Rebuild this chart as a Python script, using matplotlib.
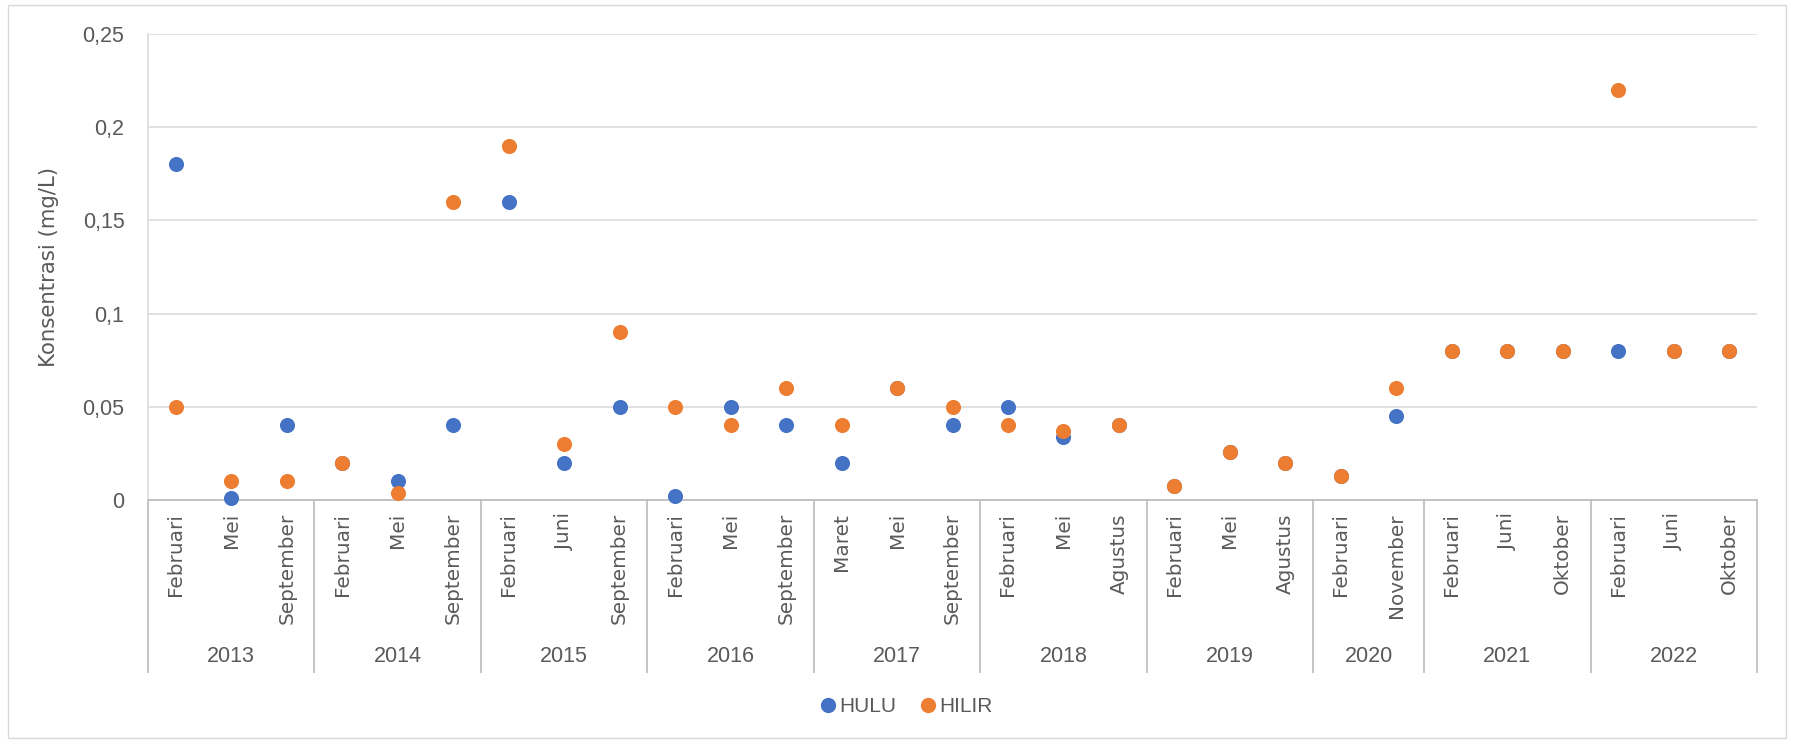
import matplotlib
matplotlib.use("Agg")
import matplotlib.pyplot as plt
from matplotlib.patches import Rectangle
from matplotlib.lines import Line2D
from matplotlib.ticker import FuncFormatter

# ---- data ----
years = ["2013", "2014", "2015", "2016", "2017", "2018", "2019", "2020", "2021", "2022"]
months = [
    ["Februari", "Mei", "September"],
    ["Februari", "Mei", "September"],
    ["Februari", "Juni", "September"],
    ["Februari", "Mei", "September"],
    ["Maret", "Mei", "September"],
    ["Februari", "Mei", "Agustus"],
    ["Februari", "Mei", "Agustus"],
    ["Februari", "November"],
    ["Februari", "Juni", "Oktober"],
    ["Februari", "Juni", "Oktober"],
]
hulu = [0.18, 0.001, 0.04,
        0.02, 0.01, 0.04,
        0.16, 0.02, 0.05,
        0.002, 0.05, 0.04,
        0.02, 0.06, 0.04,
        0.05, 0.034, 0.04,
        0.0075, 0.026, 0.02,
        0.013, 0.045,
        0.08, 0.08, 0.08,
        0.08, 0.08, 0.08]
hilir = [0.05, 0.01, 0.01,
         0.02, 0.004, 0.16,
         0.19, 0.03, 0.09,
         0.05, 0.04, 0.06,
         0.04, 0.06, 0.05,
         0.04, 0.037, 0.04,
         0.0075, 0.026, 0.02,
         0.013, 0.06,
         0.08, 0.08, 0.08,
         0.22, 0.08, 0.08]
yticks = [0, 0.05, 0.1, 0.15, 0.2, 0.25]

# ---- style ----
W, H = 1793, 742
BLUE = "#4472C4"
ORANGE = "#ED7D31"
GRID = "#D9D9D9"
AXIS = "#BFBFBF"
TEXT = "#595959"
NARROW = ["Liberation Sans Narrow", "Liberation Sans", "DejaVu Sans"]
WIDE = ["DejaVu Sans"]

fig = plt.figure(figsize=(W / 100, H / 100), dpi=100)
fig.patch.set_facecolor("white")

# outer chart border
fig.add_artist(Rectangle((8 / W, 1 - 738 / H), (1786 - 8) / W, (738 - 5) / H,
                         transform=fig.transFigure, fill=False,
                         edgecolor=GRID, linewidth=1.0))

left, right, top, bottom = 148, 1757, 34, 500
ax = fig.add_axes([left / W, 1 - bottom / H, (right - left) / W, (bottom - top) / H])

n = len(hulu)
x = list(range(n))

ax.scatter(x, hulu, s=118, color=BLUE, linewidths=0, zorder=3, clip_on=False)
ax.scatter(x, hilir, s=118, color=ORANGE, linewidths=0, zorder=4, clip_on=False)

ax.set_xlim(-0.5, n - 0.5)
ax.set_ylim(0, 0.25)
ax.set_yticks(yticks)
ax.yaxis.set_major_formatter(FuncFormatter(lambda v, p: ("%g" % round(v, 4)).replace(".", ",")))
ax.tick_params(axis="y", length=0, pad=17, labelsize=15.5, labelcolor=TEXT)
for lab in ax.get_yticklabels():
    lab.set_family(NARROW)
ax.set_xticks([])
ax.grid(axis="y", color=GRID, linewidth=1.1, zorder=0)
ax.set_axisbelow(True)
for side in ["top", "right"]:
    ax.spines[side].set_visible(False)
ax.spines["left"].set_color(GRID)
ax.spines["left"].set_linewidth(1.1)
ax.spines["bottom"].set_color(AXIS)
ax.spines["bottom"].set_linewidth(1.3)

ax.set_ylabel("Konsentrasi (mg/L)", fontsize=15.3, color=TEXT, family=WIDE, labelpad=17)

# two-level category axis: month labels, year labels, group separators
trans = ax.get_xaxis_transform()
ph = bottom - top
month_y = -(513 - bottom) / ph
year_y = -(656 - bottom) / ph
sep_y = -(672 - bottom) / ph

pos = 0
bounds = [-0.5]
for yr, ms in zip(years, months):
    for m in ms:
        ax.text(pos, month_y, m, rotation=90, ha="center", va="top",
                fontsize=14.4, color=TEXT, family=WIDE, transform=trans)
        pos += 1
    center = pos - len(ms) / 2 - 0.5
    ax.text(center, year_y, yr, ha="center", va="center",
            fontsize=15.5, color=TEXT, family=NARROW, transform=trans)
    bounds.append(pos - 0.5)

for b in bounds:
    ax.add_line(Line2D([b, b], [0, sep_y], transform=trans, color=AXIS,
                       linewidth=1.3, clip_on=False))

# legend
handles = [
    Line2D([], [], linestyle="none", marker="o", markersize=11,
           markerfacecolor=BLUE, markeredgewidth=0, label="HULU"),
    Line2D([], [], linestyle="none", marker="o", markersize=11,
           markerfacecolor=ORANGE, markeredgewidth=0, label="HILIR"),
]
leg = fig.legend(handles=handles, loc="center", ncol=2,
                 bbox_to_anchor=(905 / W, 1 - 707 / H), frameon=False,
                 handletextpad=0.05, columnspacing=1.0, handlelength=1.0,
                 prop={"family": NARROW, "size": 15})
for t in leg.get_texts():
    t.set_color(TEXT)

fig.savefig("out.png", dpi=100, facecolor="white")
